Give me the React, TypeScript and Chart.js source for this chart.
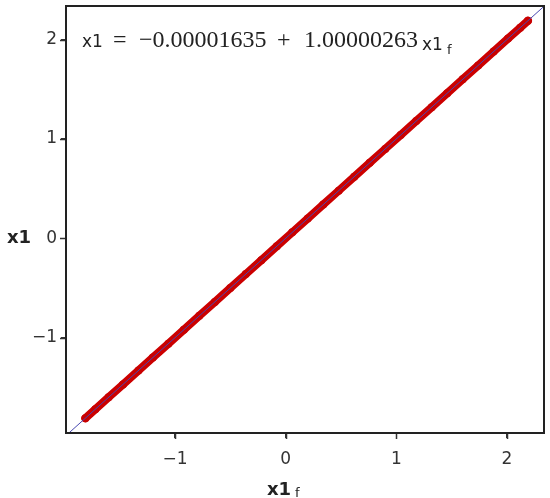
import React, { useEffect, useRef } from 'react';
import { Chart, registerables } from 'chart.js';

Chart.register(...registerables);

// Observed (x1) vs fitted (x1_f) values
const fittedX1 = [-1.81, -1.72, -1.6, -1.47, -1.33, -1.2, -1.06, -0.92, -0.78, -0.64, -0.5, -0.36, -0.22, -0.08, 0.06, 0.2, 0.34, 0.48, 0.62, 0.76, 0.9, 1.04, 1.18, 1.32, 1.46, 1.6, 1.74, 1.88, 2.01, 2.12, 2.19];
const observedX1 = [-1.81, -1.72, -1.6, -1.47, -1.33, -1.2, -1.06, -0.92, -0.78, -0.64, -0.5, -0.36, -0.22, -0.08, 0.06, 0.2, 0.34, 0.48, 0.62, 0.76, 0.9, 1.04, 1.18, 1.32, 1.46, 1.6, 1.74, 1.88, 2.01, 2.12, 2.19];

// Regression line end points
const lineX = [-1.985, 2.335];
const lineY = [-1.985, 2.335];

const xTicks = [-1, 0, 1, 2];
const yTicks = [-1, 0, 1, 2];

const interceptText = '\u22120.00001635';
const slopeText = '1.00000263';

const fmt = (v: number | string) => {
  const n = Number(v);
  return n < 0 ? '\u2212' + Math.abs(n) : String(n);
};

export default function App() {
  const ref = useRef<HTMLCanvasElement>(null);

  useEffect(() => {
    if (!ref.current) return;
    const overlay = {
      id: 'overlay',
      afterDraw(chart: any) {
        const ctx = chart.ctx as CanvasRenderingContext2D;
        const a = chart.chartArea;
        ctx.save();
        // tick marks
        ctx.strokeStyle = '#333';
        ctx.lineWidth = 1.5;
        ctx.beginPath();
        for (const v of xTicks) {
          const px = Math.round(chart.scales.x.getPixelForValue(v)) + 0.5;
          ctx.moveTo(px, a.bottom);
          ctx.lineTo(px, a.bottom + 6);
        }
        for (const v of yTicks) {
          const py = Math.round(chart.scales.y.getPixelForValue(v)) + 0.5;
          ctx.moveTo(a.left, py);
          ctx.lineTo(a.left - 6, py);
        }
        ctx.stroke();
        // frame
        ctx.strokeStyle = '#222';
        ctx.lineWidth = 2;
        ctx.strokeRect(a.left, a.top, a.right - a.left, a.bottom - a.top);

        // equation
        ctx.fillStyle = '#222';
        ctx.textBaseline = 'alphabetic';
        ctx.textAlign = 'left';
        ctx.font = '17px "DejaVu Sans"';
        ctx.fillText('x1', 82, 47);
        ctx.font = '24px "Liberation Serif"';
        ctx.fillText('=', 113, 47);
        ctx.fillText(interceptText, 139, 47);
        ctx.fillText('+', 277, 47);
        ctx.fillText(slopeText, 304, 47);
        ctx.font = '17px "DejaVu Sans"';
        ctx.fillText('x1', 422, 50);
        ctx.font = '13px "DejaVu Sans"';
        ctx.fillText('f', 447, 54);

        // axis titles
        ctx.fillStyle = '#222';
        ctx.font = 'bold 18px "DejaVu Sans"';
        ctx.fillText('x1', 7, 243);
        ctx.fillText('x1', 267, 495);
        ctx.font = '13px "DejaVu Sans"';
        ctx.fillText('f', 295, 497);
        ctx.restore();
      },
    };

    const chart = new Chart(ref.current, {
      type: 'scatter',
      data: {
        datasets: [
          {
            data: lineX.map((x, i) => ({ x, y: lineY[i] })),
            showLine: true,
            borderColor: '#4848b0',
            borderWidth: 1,
            pointRadius: 0,
            order: 0,
          },
          {
            data: fittedX1.map((x, i) => ({ x, y: observedX1[i] })),
            showLine: true,
            borderColor: '#cc0000',
            borderWidth: 8,
            borderCapStyle: 'round',
            pointRadius: 4,
            pointBackgroundColor: '#c80000',
            pointBorderWidth: 0,
            order: 1,
          },
        ],
      },
      options: {
        animation: false,
        responsive: false,
        layout: { padding: { top: 6, right: 6, left: 0, bottom: 0 } },
        plugins: { legend: { display: false }, tooltip: { enabled: false } },
        scales: {
          x: {
            type: 'linear',
            min: -1.985,
            max: 2.335,
            afterBuildTicks: (s: any) => {
              s.ticks = xTicks.map((v) => ({ value: v }));
            },
            afterFit: (s: any) => {
              s.height = 65;
              s.paddingLeft = 0;
              s.paddingRight = 0;
            },
            grid: { drawOnChartArea: false, drawTicks: true, tickLength: 5, color: '#333', lineWidth: 1 },
            border: { display: false },
            ticks: { padding: 11, font: { family: 'DejaVu Sans', size: 17 }, color: '#333', callback: fmt, maxRotation: 0 },
          },
          y: {
            type: 'linear',
            min: -1.959,
            max: 2.338,
            afterBuildTicks: (s: any) => {
              s.ticks = yTicks.map((v) => ({ value: v }));
            },
            afterFit: (s: any) => {
              s.width = 66;
              s.paddingTop = 0;
              s.paddingBottom = 0;
            },
            grid: { drawOnChartArea: false, drawTicks: true, tickLength: 5, color: '#333', lineWidth: 1 },
            border: { display: false },
            ticks: { padding: 4, font: { family: 'DejaVu Sans', size: 17 }, color: '#333', callback: fmt },
          },
        },
      },
      plugins: [overlay],
    } as any);
    return () => chart.destroy();
  }, []);

  return (
    <div style={{ position: 'absolute', left: 0, top: 0, width: 550, height: 498 }}>
      <canvas ref={ref} width={550} height={498} style={{ display: 'block' }} />
    </div>
  );
}
